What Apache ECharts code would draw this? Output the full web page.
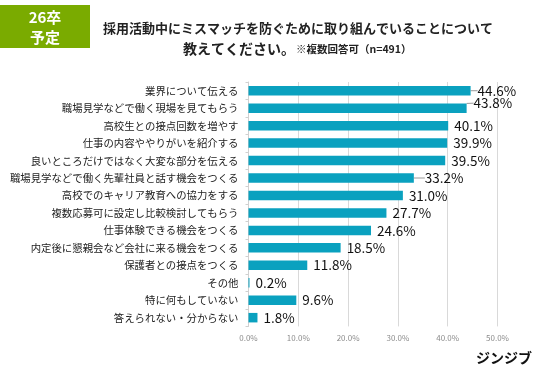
<!DOCTYPE html>
<html><head><meta charset="utf-8">
<script src="https://cdn.jsdelivr.net/npm/echarts@6/dist/echarts.min.js"></script>
<style>html,body{margin:0;padding:0;background:#fff}#c{width:536px;height:369px}</style>
</head><body><div id="c"></div>
<script>
const categories = [
  '業界について伝える',
  '職場見学などで働く現場を見てもらう',
  '高校生との接点回数を増やす',
  '仕事の内容ややりがいを紹介する',
  '良いところだけではなく大変な部分を伝える',
  '職場見学などで働く先輩社員と話す機会をつくる',
  '高校でのキャリア教育への協力をする',
  '複数応募可に設定し比較検討してもらう',
  '仕事体験できる機会をつくる',
  '内定後に懇親会など会社に来る機会をつくる',
  '保護者との接点をつくる',
  'その他',
  '特に何もしていない',
  '答えられない・分からない'
];
const values = [44.6, 43.8, 40.1, 39.9, 39.5, 33.2, 31.0, 27.7, 24.6, 18.5, 11.8, 0.2, 9.6, 1.8];
const xTicks = [0, 10, 20, 30, 40, 50];
const leaderIdx = [0, 1, 5];

const FONT = '"Noto Sans CJK JP", "Noto Sans", sans-serif';
const chart = echarts.init(document.getElementById('c'), null, {renderer: 'canvas'});
const data = values.map((v, i) => leaderIdx.includes(i)
  ? {value: v, labelLine: {show: true}}
  : {value: v});
chart.setOption({
  animation: false,
  textStyle: {fontFamily: FONT},
  graphic: [
    {type: 'rect', shape: {x: 0, y: 5, width: 90, height: 43}, style: {fill: '#7aab00'}},
    {type: 'text', x: 45, y: 17, style: {text: '26卒', fill: '#fff', font: 'bold 15px ' + FONT, align: 'center', verticalAlign: 'middle'}},
    {type: 'text', x: 45, y: 37, style: {text: '予定', fill: '#fff', font: 'bold 15px ' + FONT, align: 'center', verticalAlign: 'middle'}},
    {type: 'text', x: 298, y: 28, style: {text: '採用活動中にミスマッチを防ぐために取り組んでいることについて', fill: '#222', font: 'bold 13px ' + FONT, align: 'center', verticalAlign: 'middle'}},
    {type: 'text', x: 183, y: 49, style: {text: '教えてください。', fill: '#222', font: 'bold 14px ' + FONT, align: 'left', verticalAlign: 'middle'}},
    {type: 'text', x: 296, y: 49, style: {text: '※複数回答可（n=491）', fill: '#222', font: 'bold 10.5px ' + FONT, align: 'left', verticalAlign: 'middle'}},
    {type: 'text', x: 532, y: 358, style: {text: 'ジンジブ', fill: '#111', font: 'bold 14px ' + FONT, align: 'right', verticalAlign: 'middle'}}
  ],
  grid: {left: 248.5, right: 38.5, top: 82, bottom: 42.6, containLabel: false},
  xAxis: {
    type: 'value', min: 0, max: 50, interval: 10,
    axisLine: {show: false}, axisTick: {show: false},
    splitLine: {lineStyle: {color: '#d9d9d9', width: 1}},
    axisLabel: {color: '#8c8c8c', fontSize: 8, margin: 8,
      formatter: v => xTicks.includes(v) ? v.toFixed(1) + '%' : ''}
  },
  yAxis: {
    type: 'category', inverse: true, data: categories,
    axisLine: {lineStyle: {color: '#d0d0d0'}},
    axisTick: {show: true, length: 3, lineStyle: {color: '#d0d0d0'}},
    axisLabel: {color: '#222', fontSize: 10.4, margin: 10}
  },
  series: [{
    type: 'bar', data: data, barWidth: 9.5,
    itemStyle: {color: '#0aa1bf'},
    label: {show: true, position: 'right', distance: 6, color: '#111', fontSize: 13.5,
      formatter: p => p.value.toFixed(1) + '%'},
    labelLine: {show: false, lineStyle: {color: '#999', width: 1}},
    labelLayout: p => {
      if (p.dataIndex === 0) return {dx: 1};
      if (p.dataIndex === 1) return {dx: 1, dy: -5};
      if (p.dataIndex === 5) return {dx: 5};
      return {};
    }
  }]
});
</script></body></html>
